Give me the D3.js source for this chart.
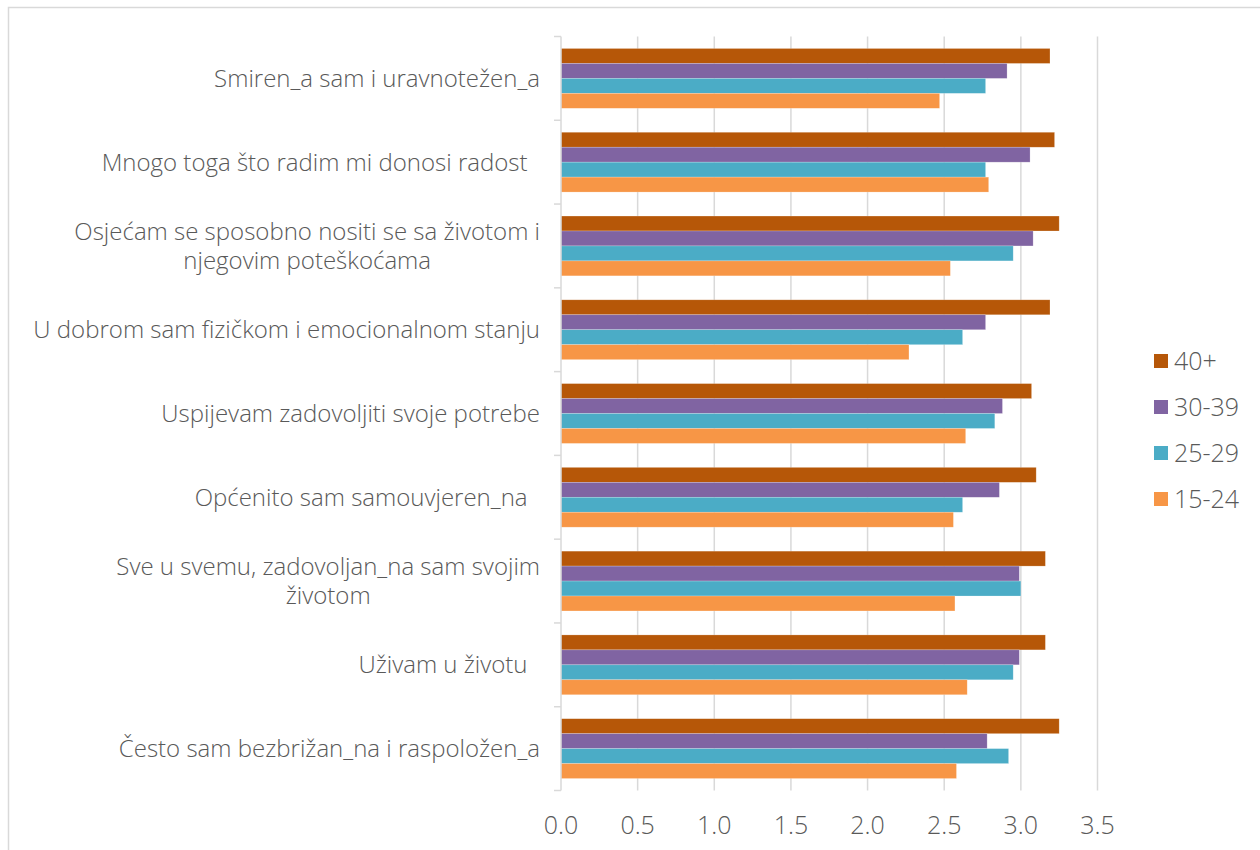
<!DOCTYPE html>
<html>
<head>
<meta charset="utf-8">
<script src="https://cdn.jsdelivr.net/npm/d3@7"></script>
<style>
  body { margin: 0; background: #fff; }
  text { font-family: "Open Sans", Lato, sans-serif; font-weight: 300; fill: #595959; }
</style>
</head>
<body>
<div id="chart"></div>
<script>
// Categories, top to bottom. Wrapped labels are split into lines.
var categories = [
  ["Smiren_a sam i uravnotežen_a"],
  ["Mnogo toga što radim mi donosi radost  "],
  ["Osjećam se sposobno nositi se sa životom i", "njegovim poteškoćama"],
  ["U dobrom sam fizičkom i emocionalnom stanju"],
  ["Uspijevam zadovoljiti svoje potrebe"],
  ["Općenito sam samouvjeren_na  "],
  ["Sve u svemu, zadovoljan_na sam svojim", "životom"],
  ["Uživam u životu  "],
  ["Često sam bezbrižan_na i raspoložen_a"]
];

var seriesNames = ["40+", "30-39", "25-29", "15-24"];
var seriesColors = ["#b65708", "#8064a2", "#4bacc6", "#f79646"];

var values40 = [3.19, 3.22, 3.25, 3.19, 3.07, 3.10, 3.16, 3.16, 3.25];
var values30 = [2.91, 3.06, 3.08, 2.77, 2.88, 2.86, 2.99, 2.99, 2.78];
var values25 = [2.77, 2.77, 2.95, 2.62, 2.83, 2.62, 3.00, 2.95, 2.92];
var values15 = [2.47, 2.79, 2.54, 2.27, 2.64, 2.56, 2.57, 2.65, 2.58];

var xTicks = [0, 0.5, 1, 1.5, 2, 2.5, 3, 3.5];

var seriesValues = [values40, values30, values25, values15];

var width = 1260;
var height = 850;

var svg = d3.select("#chart")
  .append("svg")
    .attr("width", width)
    .attr("height", height);

// Chart area border (runs off the right and bottom of the picture).
svg.append("rect")
  .attr("x", 8.5)
  .attr("y", 7.5)
  .attr("width", 1300)
  .attr("height", 900)
  .attr("fill", "none")
  .attr("stroke", "#d9d9d9")
  .attr("stroke-width", 1.5);

var plotLeft = 561, plotRight = 1097.5, plotTop = 36.5, plotBottom = 790.5;

var x = d3.scaleLinear()
  .domain([0, 3.5])
  .range([plotLeft, plotRight]);

var y = d3.scaleBand()
  .domain(d3.range(categories.length))
  .range([plotTop, plotBottom])
  .paddingInner(0.286)
  .paddingOuter(0.143);

var inner = d3.scaleBand()
  .domain(d3.range(seriesNames.length))
  .range([0, y.bandwidth()]);

// Vertical gridlines
svg.append("g")
  .selectAll("line")
  .data(xTicks.slice(1))
  .join("line")
    .attr("x1", function (d) { return x(d); })
    .attr("x2", function (d) { return x(d); })
    .attr("y1", plotTop)
    .attr("y2", plotBottom)
    .attr("stroke", "#d9d9d9")
    .attr("stroke-width", 1.5);

// Bars
seriesValues.forEach(function (vals, s) {
  svg.append("g")
    .selectAll("rect")
    .data(vals)
    .join("rect")
      .attr("x", x(0))
      .attr("y", function (d, i) { return y(i) + inner(s); })
      .attr("width", function (d) { return x(d) - x(0); })
      .attr("height", inner.bandwidth())
      .attr("fill", seriesColors[s])
      .attr("stroke", "#fff")
      .attr("stroke-opacity", 0.35)
      .attr("stroke-width", 0.6);
});

// Category axis line with outward ticks at band boundaries
var step = (plotBottom - plotTop) / categories.length;
var axisG = svg.append("g").attr("stroke", "#d9d9d9").attr("stroke-width", 1.5);
axisG.append("line")
  .attr("x1", plotLeft).attr("x2", plotLeft)
  .attr("y1", plotTop).attr("y2", plotBottom);
axisG.selectAll("line.tick")
  .data(d3.range(categories.length + 1))
  .join("line")
    .attr("class", "tick")
    .attr("x1", plotLeft - 7).attr("x2", plotLeft)
    .attr("y1", function (d) { return plotTop + d * step; })
    .attr("y2", function (d) { return plotTop + d * step; });

// Category labels: right aligned block, wrapped lines centred inside it
var labelRight = 540;
var lineH = 29;
var fontSize = 24;
categories.forEach(function (lines, i) {
  var cy = y(i) + y.bandwidth() / 2;
  var g = svg.append("g");
  var texts = lines.map(function (ln, k) {
    return g.append("text")
      .attr("y", cy + (k - (lines.length - 1) / 2) * lineH)
      .attr("dy", "0.35em")
      .attr("font-size", fontSize)
      .style("white-space", "pre")
      .text(ln);
  });
  if (lines.length == 1) {
    texts[0].attr("x", labelRight).attr("text-anchor", "end");
  } else {
    var w = d3.max(texts, function (t) { return t.node().getComputedTextLength(); });
    texts.forEach(function (t) {
      t.attr("x", labelRight - w / 2).attr("text-anchor", "middle");
    });
  }
});

// Value axis tick labels
svg.append("g")
  .selectAll("text")
  .data(xTicks)
  .join("text")
    .attr("x", function (d) { return x(d); })
    .attr("y", 825)
    .attr("dy", "0.35em")
    .attr("text-anchor", "middle")
    .attr("font-size", 25)
    .text(function (d) { return d3.format(".1f")(d); });

// Legend
var legend = svg.append("g")
  .selectAll("g")
  .data(seriesNames)
  .join("g")
    .attr("transform", function (d, i) { return "translate(1154," + (361 + i * 46) + ")"; });

legend.append("rect")
  .attr("x", 0)
  .attr("y", -7)
  .attr("width", 14)
  .attr("height", 14)
  .attr("fill", function (d, i) { return seriesColors[i]; });

legend.append("text")
  .attr("x", 20)
  .attr("dy", "0.35em")
  .attr("font-size", 25)
  .text(function (d) { return d; });
</script>
</body>
</html>
